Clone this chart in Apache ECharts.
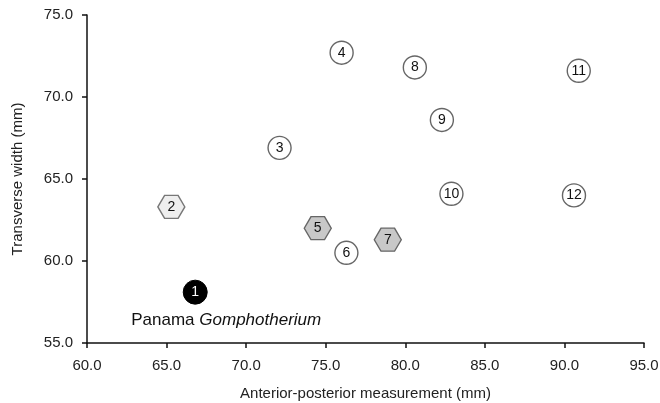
<!DOCTYPE html>
<html>
<head>
<meta charset="utf-8">
<script src="https://cdn.jsdelivr.net/npm/echarts@6/dist/echarts.min.js"></script>
<style>html,body{margin:0;padding:0;background:#fff}#c{width:660px;height:403px}</style>
</head>
<body>
<div id="c"></div>
<script>
// Data
var ids        = ['1', '2', '3', '4', '5', '6', '7', '8', '9', '10', '11', '12'];
var apValues   = [66.8, 65.3, 72.1, 76.0, 74.5, 76.3, 78.9, 80.6, 82.3, 82.9, 90.9, 90.6];
var twValues   = [58.1, 63.3, 66.9, 72.7, 62.0, 60.5, 61.3, 71.8, 68.6, 64.1, 71.6, 64.0];
var groups     = ['panama', 'hexLight', 'circle', 'circle', 'hexDark', 'circle', 'hexDark', 'circle', 'circle', 'circle', 'circle', 'circle'];
var xTicks = ['60.0','65.0','70.0','75.0','80.0','85.0','90.0','95.0'];
var yTicks = ['55.0','60.0','65.0','70.0','75.0'];
var annotation = { id: '1', before: 'Panama ', italic: 'Gomphotherium' };

var hexPath = 'path://M-2,0 L-1,-1.732 L1,-1.732 L2,0 L1,1.732 L-1,1.732 Z';
var FONT = 'Liberation Sans, Arial, sans-serif';

function pick(g) {
  var out = [];
  for (var i = 0; i < ids.length; i++) if (groups[i] === g) out.push({value: [apValues[i], twValues[i]], name: ids[i]});
  return out;
}
var labelCommon = {show: true, position: 'inside', formatter: function(p){return p.name;}, fontFamily: FONT, fontSize: 14, color: '#111'};

var annIdx = ids.indexOf(annotation.id);

var option = {
  animation: false,
  backgroundColor: '#fff',
  grid: {left: 87, right: 16, top: 15, bottom: 60, containLabel: false, outerBoundsMode: 'none'},
  xAxis: {
    type: 'value', min: 60, max: 95, interval: 5,
    name: 'Anterior-posterior measurement (mm)', nameLocation: 'middle', nameGap: 43,
    nameTextStyle: {fontFamily: FONT, fontSize: 15, color: '#222'},
    axisLine: {show: true, lineStyle: {color: '#111', width: 1.5}},
    axisTick: {show: true, length: 5, lineStyle: {color: '#111', width: 1.5}},
    axisLabel: {margin: 15, fontFamily: FONT, fontSize: 15, color: '#222', formatter: function(v){return xTicks[Math.round((v-60)/5)];}},
    splitLine: {show: false}
  },
  yAxis: {
    type: 'value', min: 55, max: 75, interval: 5,
    name: 'Transverse width (mm)', nameLocation: 'middle', nameGap: 62,
    nameTextStyle: {fontFamily: FONT, fontSize: 15, color: '#222'},
    axisLine: {show: true, lineStyle: {color: '#111', width: 1.5}},
    axisTick: {show: true, length: 5, lineStyle: {color: '#111', width: 1.5}},
    axisLabel: {margin: 14, fontFamily: FONT, fontSize: 15, color: '#222', formatter: function(v){return yTicks[Math.round((v-55)/5)];}},
    splitLine: {show: false}
  },
  series: [
    {type: 'scatter', data: pick('circle'), symbol: 'circle', symbolSize: 23,
     itemStyle: {color: '#fff', borderColor: '#666', borderWidth: 1.4, opacity: 1}, label: labelCommon},
    {type: 'scatter', data: pick('hexLight'), symbol: hexPath, symbolSize: [27, 23],
     itemStyle: {color: '#eeeeee', borderColor: '#777', borderWidth: 1.3, opacity: 1}, label: labelCommon},
    {type: 'scatter', data: pick('hexDark'), symbol: hexPath, symbolSize: [27, 23],
     itemStyle: {color: '#c8c8c8', borderColor: '#666', borderWidth: 1.3, opacity: 1}, label: labelCommon},
    {type: 'scatter', data: pick('panama'), symbol: 'circle', symbolSize: 24,
     itemStyle: {color: '#000', borderColor: '#000', borderWidth: 1, opacity: 1},
     label: Object.assign({}, labelCommon, {color: '#fff'})},
    {type: 'scatter', silent: true, symbolSize: 0, itemStyle: {color: 'rgba(0,0,0,0)', opacity: 1},
     data: [{value: [apValues[annIdx], twValues[annIdx]], name: ''}],
     label: {show: true, position: 'inside', offset: [31, 28],
       formatter: '{n|' + annotation.before + '}{i|' + annotation.italic + '}',
       rich: {
         n: {fontFamily: FONT, fontSize: 17, color: '#111'},
         i: {fontFamily: FONT, fontSize: 17, fontStyle: 'italic', color: '#111'}
       }}}
  ]
};
echarts.init(document.getElementById('c')).setOption(option);
</script>
</body>
</html>
